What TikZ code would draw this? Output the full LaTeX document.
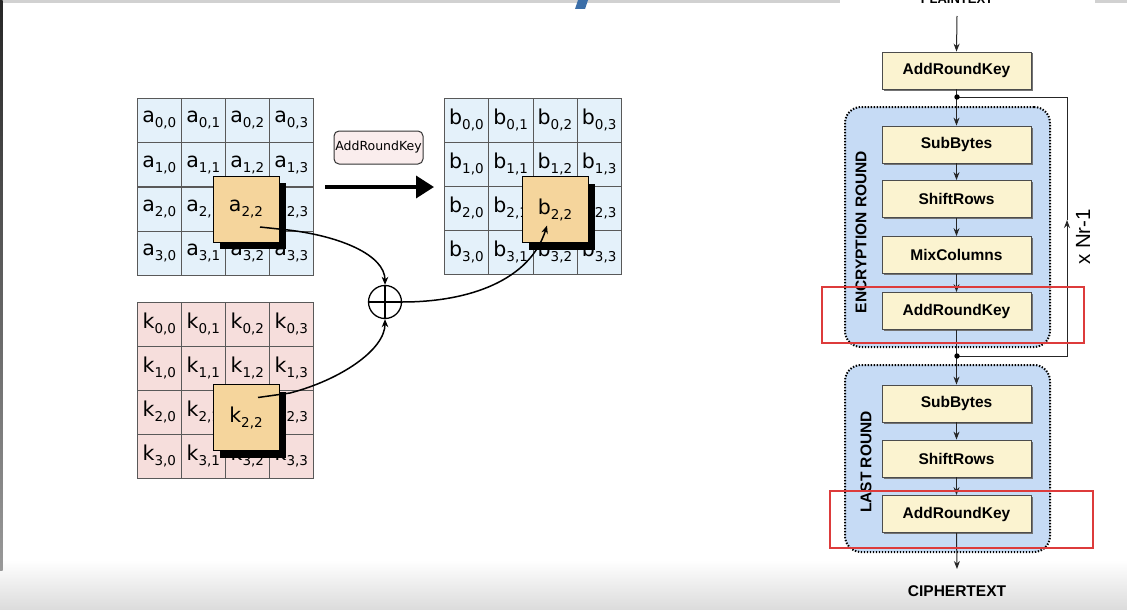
\documentclass[tikz,border=0pt]{standalone}
\usepackage{fontspec}
\setmainfont{DejaVu Sans}
\newfontfamily\hv{Liberation Sans}
\usetikzlibrary{arrows.meta,shadows}
\definecolor{cellblue}{HTML}{E4F1FA}
\definecolor{cellpink}{HTML}{F6DEDC}
\definecolor{hlorange}{HTML}{F5D59C}
\definecolor{boxyellow}{HTML}{FBF3D0}
\definecolor{contblue}{HTML}{C6DBF5}
\definecolor{redc}{HTML}{DD3B3B}
\definecolor{labpink}{HTML}{FAEDED}
\definecolor{slideblue}{HTML}{3B6EA8}
\newcommand{\celltxt}[3]{#1\raisebox{-5pt}{\fontsize{13.5}{14}\selectfont #2,#3}}
\begin{document}
\begin{tikzpicture}[x=1pt,y=-1pt,
  cell/.style={draw=black!65, line width=0.6pt, minimum width=44pt, minimum height=44pt, inner sep=0pt, anchor=north west, font=\fontsize{20.5}{22}\selectfont},
  acell/.style={cell, fill=cellblue},
  kcell/.style={cell, fill=cellpink},
  hl/.style={draw=black, line width=1pt, fill=hlorange, minimum width=66pt, minimum height=66pt, inner sep=0pt, font=\fontsize{20.5}{22}\selectfont, drop shadow={shadow xshift=7pt, shadow yshift=-7pt, fill=black, opacity=1}},
  fbox/.style={draw=black!70, line width=0.8pt, fill=boxyellow, minimum width=149pt, minimum height=37pt, inner sep=0pt, font=\hv\bfseries\fontsize{15.5}{17}\selectfont, drop shadow={shadow xshift=1.5pt, shadow yshift=-1.5pt, fill=black!55, opacity=1}},
  cont/.style={draw=black, fill=contblue, line width=2pt, dash pattern=on 1.4pt off 1.6pt, rounded corners=16pt, minimum width=205pt, inner sep=0pt},
  redbox/.style={draw=redc, line width=1.2pt, inner sep=0pt},
  flow/.style={draw=black!85, line width=1pt, -{Stealth[length=8pt,width=6pt]}},
  conn/.style={draw=black, line width=1.5pt, -{Stealth[length=8pt,width=6.5pt]}},
  lab/.style={font=\hv\bfseries\fontsize{15.5}{17}\selectfont},
]
\useasboundingbox (0,0) rectangle (1127,610);
% slide background
\fill[white] (0,0) rectangle (1127,610);
\shade[top color=white, bottom color=black!14] (0,560) rectangle (1127,610);
\fill[black!18] (0,0) rectangle (840,3);
\fill[black!18] (1095,0) rectangle (1127,3);
\shade[top color=black!85, bottom color=black!40] (0,0) rectangle (2.5,570);
\fill[slideblue] (578,0) -- (588,0) -- (585,9) -- (575,9) -- cycle;

% state grid a
\foreach \r in {0,...,3}{\foreach \c in {0,...,3}{
  \node[acell] (a-\r-\c) at (137+44*\c, 98+44.25*\r) {\celltxt{a}{\r}{\c}};
}}
% key grid k
\foreach \r in {0,...,3}{\foreach \c in {0,...,3}{
  \node[kcell] (k-\r-\c) at (137+44*\c, 302+44*\r) {\celltxt{k}{\r}{\c}};
}}
% result grid b
\foreach \r in {0,...,3}{\foreach \c in {0,...,3}{
  \node[acell, minimum width=44.25pt] (b-\r-\c) at (444+44.25*\c, 98+44*\r) {\celltxt{b}{\r}{\c}};
}}
% highlighted bytes
\node[hl] (ah) at (246,209) {\raisebox{3pt}{\celltxt{a}{2}{2}}};
\node[hl] (kh) at (246,417.5) {\raisebox{3pt}{\celltxt{k}{2}{2}}};
\node[hl] (bh) at (555,209.5) {\raisebox{3pt}{\celltxt{b}{2}{2}}};

% AddRoundKey label and big arrow
\node[draw=black!80, line width=1pt, fill=labpink, rounded corners=5pt, minimum width=89pt, minimum height=33pt, inner sep=0pt, font=\fontsize{12.5}{14}\selectfont] (lbl) at (378.5,147.5) {AddRoundKey};
\coordinate (bs) at (325,187);
\coordinate (be) at (434,187);
\draw[line width=3.5pt, -{Triangle[length=18pt,width=22pt]}] (bs) -- (be);

% XOR
\node[circle, draw=black, line width=1.3pt, minimum size=33pt, inner sep=0pt] (xor) at (385,302) {};
\draw[line width=1.3pt] (xor.north) -- (xor.south) (xor.west) -- (xor.east);

\coordinate (as) at ([shift={(14,18)}]ah.center);
\coordinate (ks) at ([shift={(12,-20)}]kh.center);
\coordinate (bt) at ([shift={(-8,16)}]bh.center);
\draw[conn] (as) -- (288,230) .. controls (340,236) and (385,255) .. (xor.north);
\draw[conn] (ks) -- (290,393) .. controls (340,380) and (385,350) .. (xor.south);
\draw[conn] (xor.east) .. controls (470,302) and (530,280) .. (bt);

% ===== right flow chart =====
\node[cont, minimum height=240pt] (enc) at (947.5,227) {};
\node[cont, minimum height=187pt] (last) at (947.5,458.5) {};

\node[lab, font=\hv\bfseries\fontsize{13}{15}\selectfont] (pt) at (957,-1) {PLAINTEXT};
\node[fbox] (ark0) at (956.5,70.5) {AddRoundKey};
\node[fbox] (sb1) at (956.5,144.5) {SubBytes};
\node[fbox] (sr1) at (956.5,199) {ShiftRows};
\node[fbox] (mc) at (956.5,255) {MixColumns};
\node[fbox] (ark1) at (956.5,311) {AddRoundKey};
\node[fbox] (sb2) at (956.5,403.5) {SubBytes};
\node[fbox] (sr2) at (956.5,458.5) {ShiftRows};
\node[fbox] (ark2) at (956.5,514) {AddRoundKey};
\node[lab] (ct) at (957,591) {CIPHERTEXT};

\node[lab, rotate=90] (encl) at (861,232) {ENCRYPTION ROUND};
\node[lab, rotate=90] (lastl) at (866,462) {LAST ROUND};

\coordinate (pts) at (957,16);
\coordinate (d1) at (957,97);
\coordinate (d2) at (957,356);
\coordinate (ce) at (957,569);
\coordinate (lt) at (1067,97);
\coordinate (lb) at (1067,356);
\coordinate (lm) at (1067,220);

\draw[flow] (pts) -- (ark0.north);
\draw[flow] (ark0.south) -- (sb1.north);
\draw[flow] (sb1.south) -- (sr1.north);
\draw[flow] (sr1.south) -- (mc.north);
\draw[flow] (mc.south) -- (ark1.north);
\draw[flow] (ark1.south) -- (sb2.north);
\draw[flow] (sb2.south) -- (sr2.north);
\draw[flow] (sr2.south) -- (ark2.north);
\draw[flow] (ark2.south) -- (ce);
\draw[flow] (d2) -- (lb) -- (lm);
\draw[draw=black!85, line width=1pt] (lm) -- (lt) -- (d1);
\fill[black] (d1) circle (2.7pt) (d2) circle (2.7pt);

\node[font=\hv\fontsize{20.5}{22}\selectfont, rotate=90] (nr) at (1083,237) {x Nr-1};

\node[redbox, minimum width=262pt, minimum height=56pt] (r1) at (953,315) {};
\node[redbox, minimum width=263pt, minimum height=57pt] (r2) at (961.5,519.5) {};
\end{tikzpicture}
\end{document}
